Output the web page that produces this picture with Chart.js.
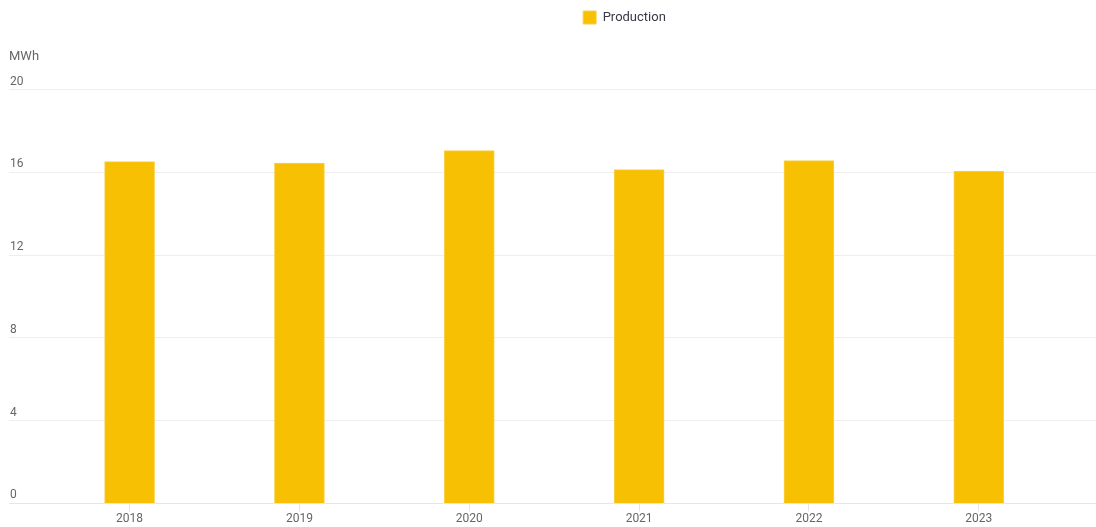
<!DOCTYPE html>
<html>
<head>
<meta charset="utf-8">
<script src="https://cdn.jsdelivr.net/npm/chart.js@4"></script>
<style>
  html, body { margin: 0; padding: 0; background: #fff; }
  #wrap { width: 1096px; height: 527px; }
</style>
</head>
<body>
<div id="wrap"><canvas id="production-chart"></canvas></div>
<script>
// yearly production in MWh
var years = ['2018', '2019', '2020', '2021', '2022', '2023'];
var production = [16.52, 16.45, 17.05, 16.13, 16.57, 16.06];
var yTicks = [0, 4, 8, 12, 16, 20];

var barColor = '#f7c002';

Chart.defaults.font.family = 'Roboto, "Open Sans", sans-serif';
Chart.defaults.color = '#666';

var points = years.map(function (y, i) {
    return { x: i, y: production[i] };
});

// nudge the legend a bit to the right of the centre
var legendShift = {
    id: 'legendShift',
    afterLayout: function (chart) {
        if (chart.legend) {
            chart.legend.left += 72;
            chart.legend.right += 72;
        }
    }
};

var ctx = document.getElementById('production-chart');
var myChart = new Chart(ctx, {
    type: 'bar',
    data: {
        datasets: [{
            label: 'Production',
            data: points,
            backgroundColor: barColor,
            borderColor: '#f9d04a',
            borderWidth: 1,
            barThickness: 50
        }]
    },
    options: {
        responsive: true,
        maintainAspectRatio: false,
        animation: false,
        layout: { padding: { left: 9, right: 0, top: 3, bottom: 0 } },
        plugins: {
            legend: {
                position: 'top',
                weight: 1000,
                labels: {
                    boxWidth: 13,
                    boxHeight: 13,
                    color: '#383848',
                    font: { size: 13 },
                    padding: 8
                }
            },
            title: {
                display: true,
                text: 'MWh',
                align: 'start',
                weight: 500,
                color: '#666',
                font: { size: 13, weight: 'normal' },
                padding: { top: 15, bottom: 25 }
            },
            tooltip: { enabled: false }
        },
        scales: {
            x: {
                type: 'linear',
                offset: false,
                min: -0.71,
                max: years.length - 1 + 0.69,
                afterBuildTicks: function (scale) {
                    scale.ticks = years.map(function (_, i) { return { value: i }; });
                },
                ticks: {
                    autoSkip: false,
                    color: '#666',
                    font: { size: 12, lineHeight: 0.8 },
                    padding: 3,
                    callback: function (v) { return years[v]; }
                },
                grid: {
                    offset: false,
                    drawOnChartArea: false,
                    drawTicks: true,
                    tickLength: 8,
                    color: '#e6e6e6'
                },
                border: { color: '#e6e6e6' }
            },
            y: {
                min: 0,
                max: 20,
                afterBuildTicks: function (scale) {
                    scale.ticks = yTicks.map(function (v) { return { value: v }; });
                },
                afterFit: function (scale) { scale.width = 0; },
                ticks: {
                    mirror: true,
                    padding: 1,
                    labelOffset: -8,
                    color: '#666',
                    font: { size: 12 }
                },
                grid: {
                    color: '#eeeeee',
                    drawTicks: false
                },
                border: { display: false }
            }
        }
    },
    plugins: [legendShift]
});
</script>
</body>
</html>
